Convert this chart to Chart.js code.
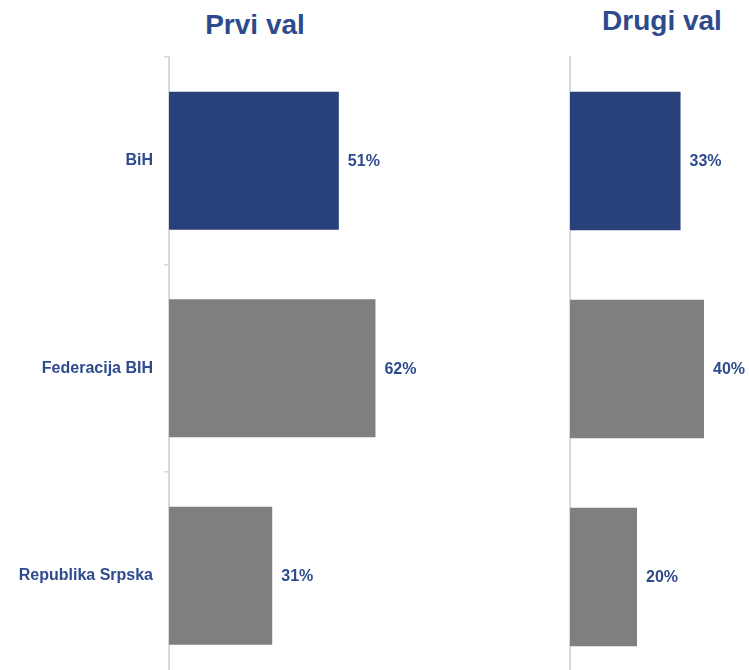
<!DOCTYPE html>
<html>
<head>
<meta charset="utf-8">
<script src="https://cdn.jsdelivr.net/npm/chart.js@4.4.1/dist/chart.umd.min.js"></script>
<style>
  html, body { margin: 0; padding: 0; background: #fff; overflow: hidden; width: 749px; height: 670px; }
  .wrap { position: absolute; top: 0; }
  .title { position: absolute; font-family: 'Liberation Sans', Arial, sans-serif; font-weight: bold;
           font-size: 28px; color: #2c4a8c; white-space: nowrap; transform: translateX(-50%); }
</style>
</head>
<body>
<div class="title" id="title-1" style="left:255px; top:9px;">Prvi val</div>
<div class="title" id="title-2" style="left:662px; top:5px;">Drugi val</div>
<div class="wrap" style="left:0; width:540px; height:700px;"><canvas id="chart-first"></canvas></div>
<div class="wrap" style="left:400px; width:520px; height:700px;"><canvas id="chart-second"></canvas></div>

<script>
// Data
const regions = ['BiH', 'Federacija BIH', 'Republika Srpska'];
const firstWave = [51, 62, 31];
const secondWave = [33, 40, 20];
const barColors = ['#28417a', '#7f7f7f', '#7f7f7f'];

const textBlue = '#2e4b8d';
const axisGray = '#dadada';
const fontFamily = "'Liberation Sans', Arial, sans-serif";

// Draws "51%" etc. right of each bar
const valueLabels = {
  id: 'valueLabels',
  afterDatasetsDraw(chart) {
    const ctx = chart.ctx;
    const meta = chart.getDatasetMeta(0);
    ctx.save();
    ctx.font = `bold 16px ${fontFamily}`;
    ctx.fillStyle = textBlue;
    ctx.textAlign = 'left';
    ctx.textBaseline = 'middle';
    meta.data.forEach((bar, i) => {
      ctx.fillText(chart.data.datasets[0].data[i] + '%', bar.x + 9, bar.y + 1);
    });
    ctx.restore();
  }
};

function buildChart(id, values, showLabels, axisWidth, padRight) {
  const ctx = document.getElementById(id).getContext('2d');
  return new Chart(ctx, {
    type: 'bar',
    data: {
      labels: regions,
      datasets: [{
        data: values,
        backgroundColor: barColors,
        borderWidth: 0,
        categoryPercentage: 1,
        barPercentage: 0.665
      }]
    },
    options: {
      indexAxis: 'y',
      responsive: true,
      maintainAspectRatio: false,
      animation: false,
      layout: { padding: { top: 57, bottom: 19, left: 0, right: padRight } },
      plugins: {
        legend: { display: false },
        tooltip: { enabled: false }
      },
      scales: {
        x: {
          display: false,
          min: 0,
          max: 100
        },
        y: {
          afterFit(scale) { scale.width = axisWidth; },
          border: { display: true, color: axisGray, width: 2 },
          grid: {
            display: true,
            drawOnChartArea: false,
            drawTicks: showLabels,
            tickLength: 5,
            color: axisGray,
            lineWidth: 1.5
          },
          ticks: {
            display: showLabels,
            padding: 11,
            color: textBlue,
            font: { family: fontFamily, size: 16, weight: 'bold' }
          }
        }
      }
    },
    plugins: [valueLabels]
  });
}

buildChart('chart-first', firstWave, true, 169, 38);
buildChart('chart-second', secondWave, false, 170, 15);
</script>
</body>
</html>
